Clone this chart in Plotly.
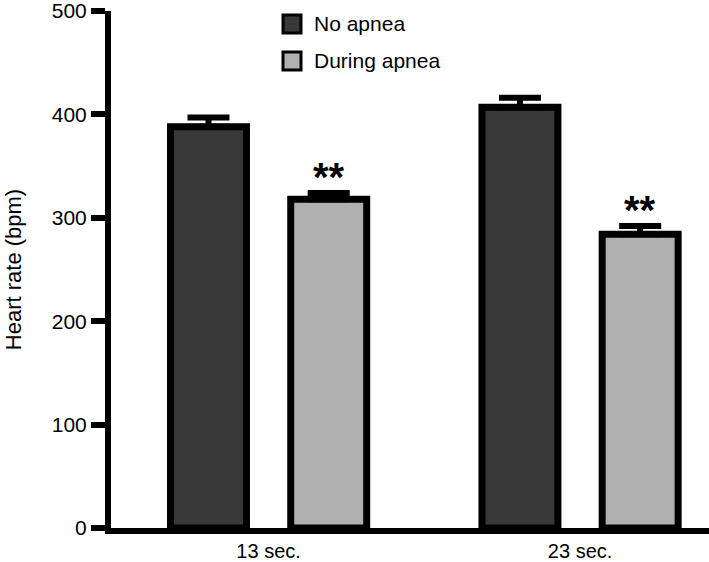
import plotly.graph_objects as go

categories = ["13 sec.", "23 sec."]
no_apnea = [388, 407]
no_apnea_err = [9, 9]
during_apnea = [318, 284]
during_apnea_err = [6, 8]
sig_labels = ["**", "**"]
y_ticks = [0, 100, 200, 300, 400, 500]

FONT = "Liberation Sans Narrow, Arial Narrow, Liberation Sans, Arial"

fig = go.Figure()
fig.add_trace(go.Bar(
    name="No apnea", x=categories, y=no_apnea,
    marker=dict(color="#383838", line=dict(color="black", width=7)),
    error_y=dict(type="data", symmetric=False, array=no_apnea_err,
                 arrayminus=[0] * len(no_apnea_err),
                 color="black", thickness=6, width=21),
))
fig.add_trace(go.Bar(
    name="During apnea", x=categories, y=during_apnea,
    marker=dict(color="#b0b0b0", line=dict(color="black", width=7)),
    error_y=dict(type="data", symmetric=False, array=during_apnea_err,
                 arrayminus=[0] * len(during_apnea_err),
                 color="black", thickness=6, width=21),
))

L, R, T, B = 111, 0, 11, 33.5
W, H = 709, 562
pw, ph = W - L - R, H - T - B

def px2paper(x, y):
    return (x - L) / pw, (H - B - y) / ph

# significance marks
for i, (c, v, e, s) in enumerate(zip(categories, during_apnea, during_apnea_err, sig_labels)):
    fig.add_annotation(x=c, y=v + e, text="<b>" + s + "</b>", showarrow=False, xshift=0.193 * 311.5,
                       yanchor="bottom", yshift=-8,
                       font=dict(family="Liberation Sans, Arial", size=40, color="black"))

# custom legend
legend_items = [("No apnea", "#383838", 24), ("During apnea", "#b0b0b0", 61)]
for name, col, cy in legend_items:
    x0, y0 = px2paper(283, cy + 9)
    x1, y1 = px2paper(301, cy - 9)
    fig.add_shape(type="rect", xref="paper", yref="paper", x0=x0, y0=y0, x1=x1, y1=y1,
                  fillcolor=col, line=dict(color="black", width=3))
    tx, ty = px2paper(312, cy)
    fig.add_annotation(xref="paper", yref="paper", x=tx, y=ty, text=name, showarrow=False,
                       xanchor="left", yanchor="middle",
                       font=dict(family=FONT, size=21, color="black"))

fig.update_layout(
    width=W, height=H,
    margin=dict(l=L, r=R, t=T, b=B, pad=0),
    paper_bgcolor="white", plot_bgcolor="white",
    barmode="group", bargap=0.228, bargroupgap=0.368,
    showlegend=False,
    font=dict(family=FONT, size=21, color="black"),
)
fig.update_xaxes(range=[-0.506, 1.414], showline=True, linecolor="black", linewidth=6,
                 ticks="", showgrid=False, zeroline=False,
                 tickfont=dict(family=FONT, size=20))
fig.update_yaxes(range=[0, 500.01], tickvals=y_ticks, showline=True, linecolor="black",
                 linewidth=6, ticks="outside", ticklen=14, tickwidth=6, tickcolor="black",
                 showgrid=False, zeroline=False, ticklabeloverflow="allow",
                 title=dict(text="Heart rate (bpm)", font=dict(family=FONT, size=22), standoff=26),
                 tickfont=dict(family=FONT, size=21))

fig.write_html("out.html", post_script="document.body.style.margin='0';",
               config={"displayModeBar": False})
